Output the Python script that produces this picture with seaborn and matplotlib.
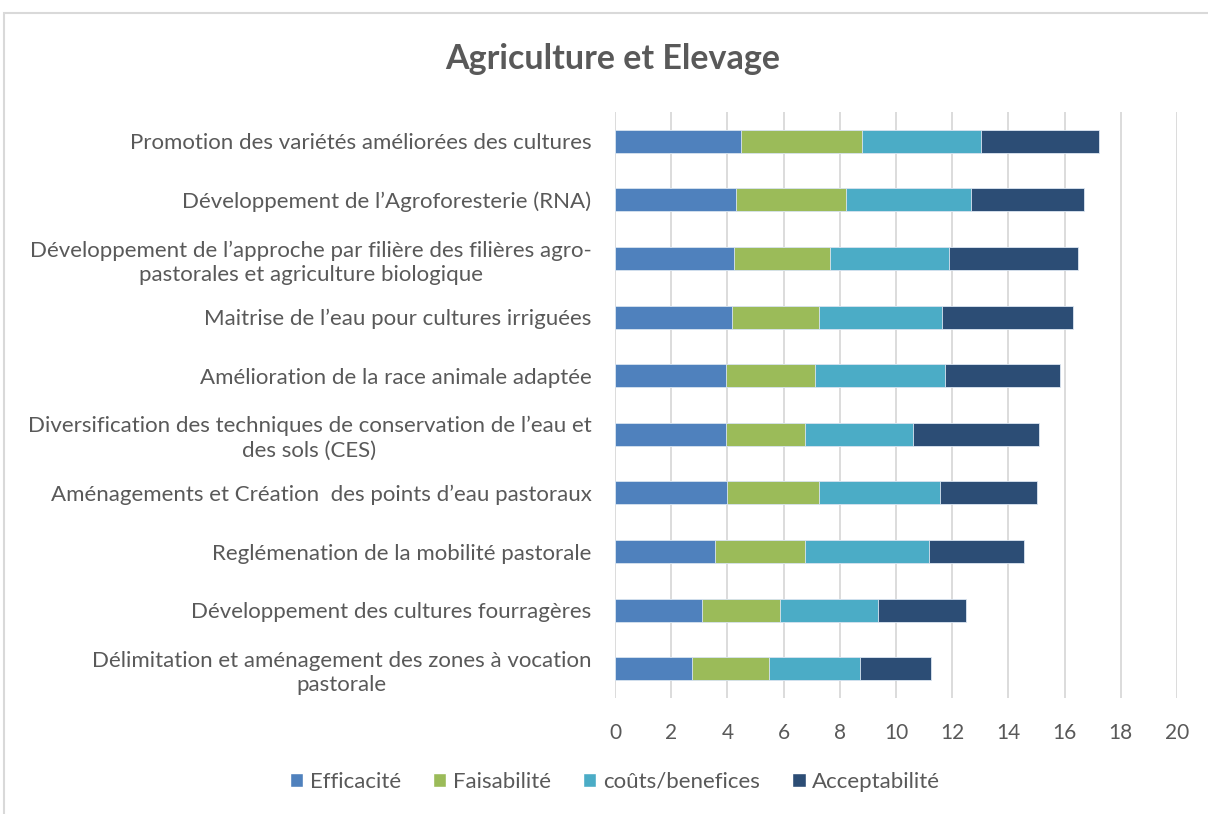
import numpy as np
import pandas as pd
import matplotlib
matplotlib.use("Agg")
import matplotlib.pyplot as plt
from matplotlib.patches import Patch, Rectangle
import seaborn as sns

sns.set_theme(style="white")
plt.rcParams['font.family'] = ['Lato', 'DejaVu Sans']

categories = [
    "Promotion des variétés améliorées des cultures",
    "Développement de l\u2019Agroforesterie (RNA)",
    "Développement de l\u2019approche par filière des filières agro-\npastorales et agriculture biologique",
    "Maitrise de l\u2019eau pour cultures irriguées",
    "Amélioration de la race animale adaptée",
    "Diversification des techniques de conservation de l\u2019eau et\ndes sols (CES)",
    "Aménagements et Création  des points d\u2019eau pastoraux",
    "Reglémenation de la mobilité pastorale",
    "Développement des cultures fourragères",
    "Délimitation et aménagement des zones à vocation\npastorale",
]
efficacite = [4.48, 4.31, 4.23, 4.16, 3.96, 3.94, 3.99, 3.55, 3.10, 2.73]
faisabilite = [4.30, 3.91, 3.42, 3.11, 3.17, 2.81, 3.28, 3.22, 2.77, 2.75]
couts = [4.26, 4.46, 4.25, 4.36, 4.60, 3.85, 4.31, 4.42, 3.50, 3.24]
acceptabilite = [4.18, 4.01, 4.58, 4.67, 4.12, 4.48, 3.44, 3.38, 3.13, 2.51]

series = ["Efficacité", "Faisabilité", "coûts/benefices", "Acceptabilité"]
colors = ["#4F81BD", "#9BBB59", "#4BACC6", "#2C4D75"]

df = pd.DataFrame({"cat": categories, "Efficacité": efficacite, "Faisabilité": faisabilite,
                   "coûts/benefices": couts, "Acceptabilité": acceptabilite})
cum = df[series].cumsum(axis=1)

text_col = "#595959"
fig = plt.figure(figsize=(12.08, 8.14), dpi=100)
ax = fig.add_axes([615 / 1208, 1 - 698 / 814, 562 / 1208, 586 / 814])

# stacked: draw cumulative totals from the largest down
for s, c in reversed(list(zip(series, colors))):
    sns.barplot(x=cum[s], y=df["cat"], orient="h", color=c, width=0.39,
                edgecolor="#DCE6F2", linewidth=0.6, ax=ax, saturation=1)

ax.set_xlim(0, 20)
ax.set_xticks(np.arange(0, 21, 2))
ax.grid(axis="x", color="#D9D9D9", linewidth=1.3)
ax.set_axisbelow(True)
for sp in ax.spines.values():
    sp.set_visible(False)
ax.set_xlabel("")
ax.set_ylabel("")
ax.tick_params(axis="x", labelsize=15, labelcolor=text_col, pad=18, length=0)
ax.tick_params(axis="y", labelsize=16, labelcolor=text_col, pad=17, length=0)
for lab in ax.get_yticklabels():
    lab.set_multialignment("center")
    lab.set_linespacing(1.25)

fig.text(0.507, 1 - 59 / 814, "Agriculture et Elevage", ha="center", va="center",
         fontsize=24.5, fontweight="bold", color=text_col)

handles = [Patch(facecolor=c, label=s) for s, c in zip(series, colors)]
fig.legend(handles=handles, loc="center", bbox_to_anchor=(0.509, 1 - 782 / 814), ncol=4,
           frameon=False, fontsize=16, labelcolor=text_col, handlelength=0.6,
           handleheight=0.6, handletextpad=0.3, columnspacing=1.45)

fig.patches.append(Rectangle((4 / 1208, -0.05), 1.1, 1.05 - 12.5 / 814, transform=fig.transFigure,
                             fill=False, edgecolor="#D9D9D9", linewidth=1.5))

fig.savefig("out.png", dpi=100)
